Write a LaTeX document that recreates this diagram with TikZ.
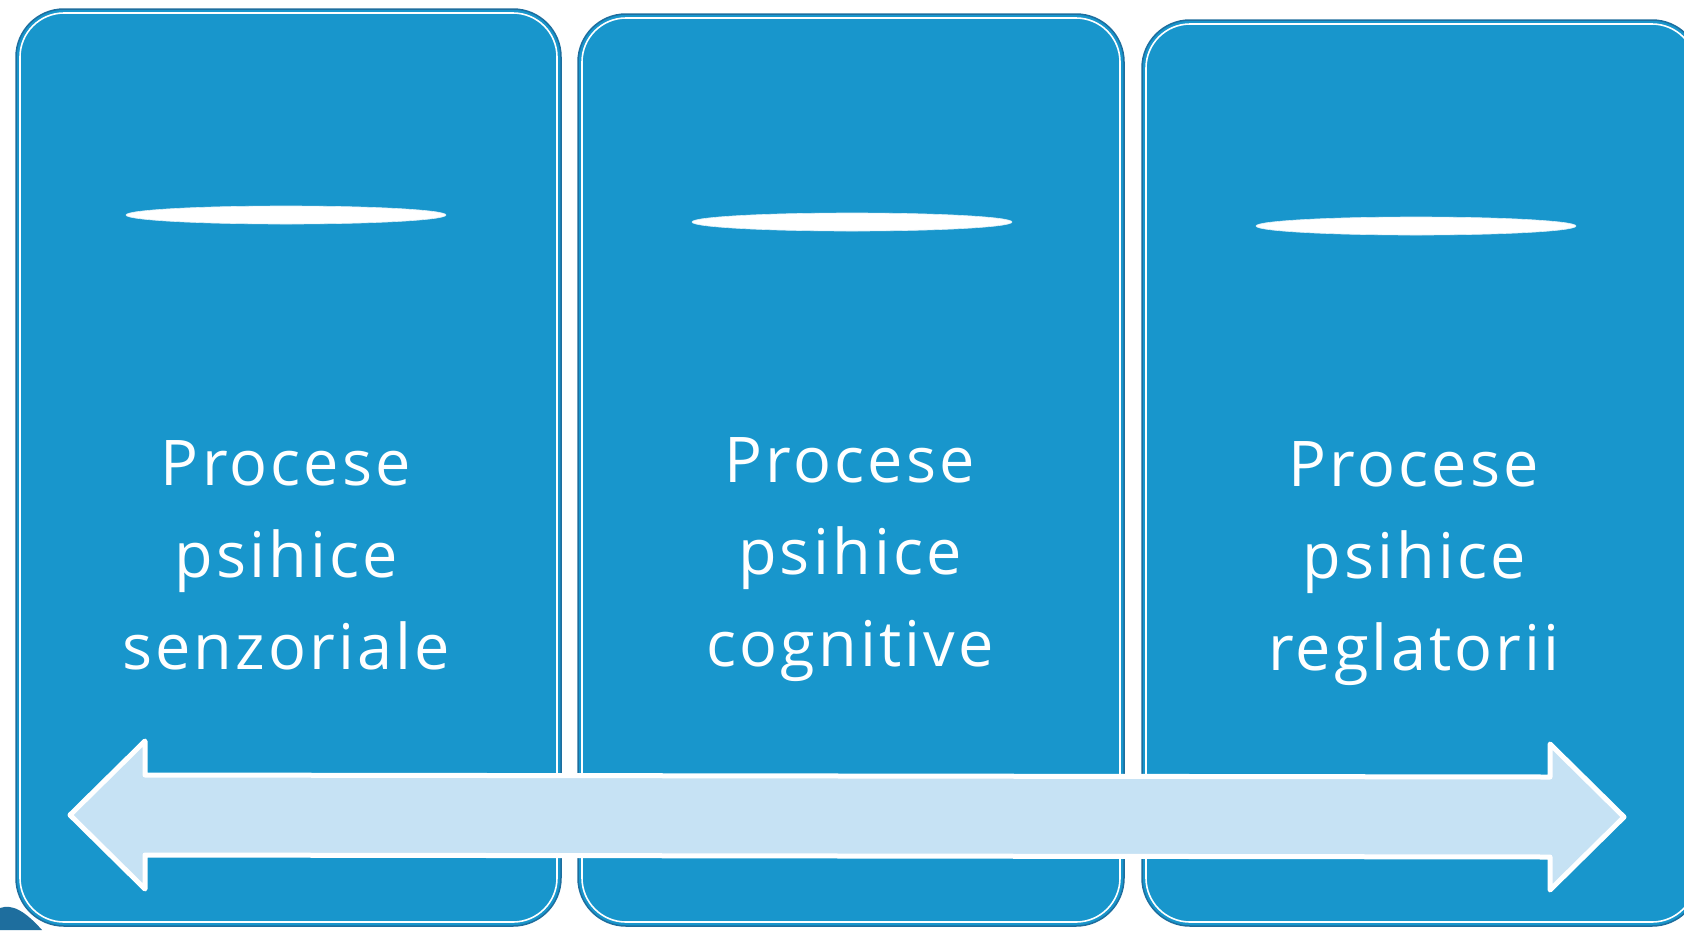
\documentclass[tikz,border=0pt]{standalone}
\usepackage{fontspec}
\setmainfont{Open Sans}[LetterSpace=5]
\definecolor{panelblue}{HTML}{1896CC}
\definecolor{edgeblue}{HTML}{1E6E9E}
\definecolor{arrowfill}{HTML}{C6E2F4}
\begin{document}
\begin{tikzpicture}[x=1pt,y=-1pt,
  panel/.style={draw=edgeblue,line width=1.5pt,fill=panelblue,rounded corners=48pt},
  inner/.style={draw=white,line width=1.6pt,rounded corners=44pt},
  lens/.style={fill=white,draw=white!85!panelblue,line width=0.6pt},
  label/.style={text=white,align=center,font=\fontsize{63}{92}\selectfont},
  arrowshape/.style={fill=arrowfill,draw=white,line width=5pt,line join=round}]
\useasboundingbox (0,0) rectangle (1684,930);
\fill[white] (0,0) rectangle (1684,930);
% panels
\draw[panel] (16,9) rectangle (561,926);
\draw[inner] (20,13) rectangle (557,922);
\draw[panel] (578,14) rectangle (1124,926);
\draw[inner] (582,18) rectangle (1120,922);
\draw[panel] (1142,20) rectangle (1700,926);
\draw[inner] (1146,24) rectangle (1696,922);
% corner blob
\fill[edgeblue] (0,908) .. controls (12,904) and (24,910) .. (42,930) -- (0,930) -- cycle;
% lenses
\coordinate (l1) at (286,215);
\coordinate (l2) at (852,222);
\coordinate (l3) at (1416,226);
\foreach \c in {l1,l2,l3}
  \draw[lens] (\c) ellipse [x radius=160, y radius=9];
% labels
\node[label] (t1) at (286,555) {Procese\\psihice\\senzoriale};
\node[label] (t2) at (850,560) {Procese\\psihice\\cognitive};
\node[label] (t3) at (1414,564) {Procese\\psihice\\reglatorii};
% double arrow
\coordinate (tipL) at (70,815);
\coordinate (tipR) at (1624,817);
\draw[arrowshape] (tipL) -- (145,741) -- (145,775) -- (1550,777) -- (1550,744)
  -- (tipR) -- (1550,890) -- (1550,857) -- (145,855) -- (145,889) -- cycle;
\end{tikzpicture}
\end{document}
